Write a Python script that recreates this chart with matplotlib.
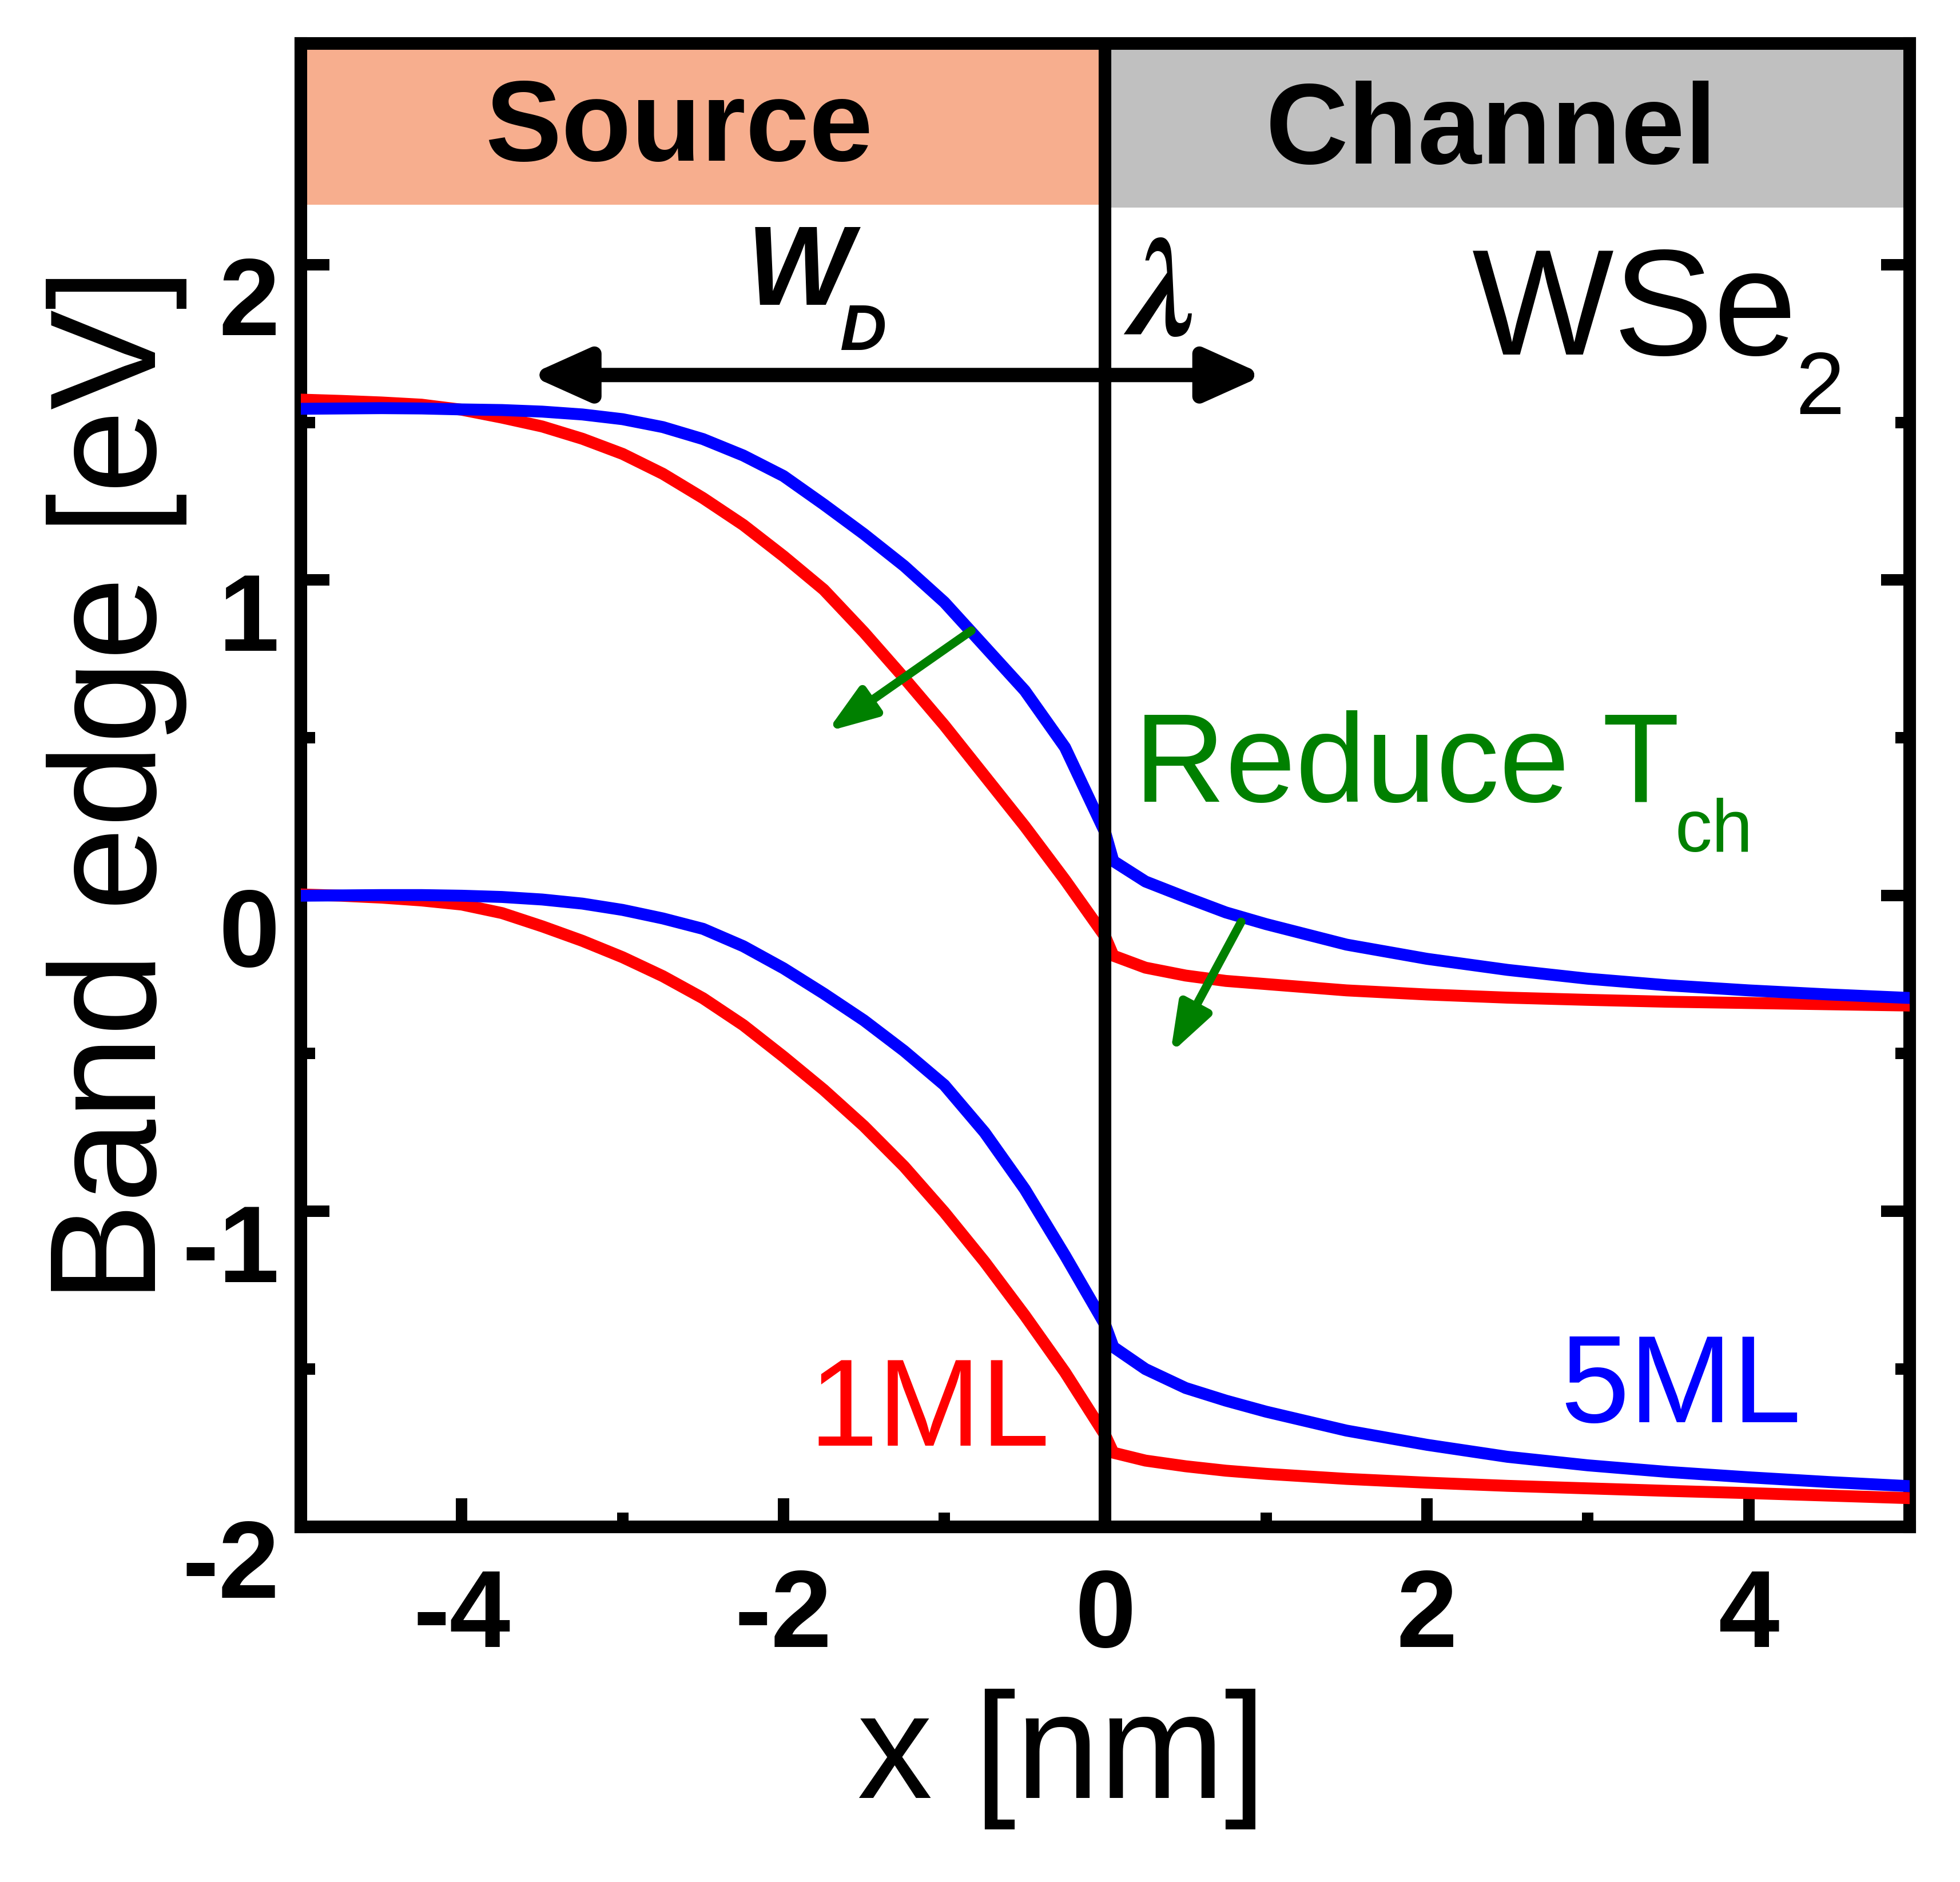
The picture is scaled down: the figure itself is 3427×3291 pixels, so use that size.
import numpy as np
import matplotlib
matplotlib.use('Agg')
import matplotlib.pyplot as plt
from matplotlib.patches import Rectangle, FancyArrowPatch
from matplotlib.transforms import ScaledTranslation

plt.rcParams['font.family'] = ['Liberation Sans', 'DejaVu Sans']
plt.rcParams['axes.unicode_minus'] = False

# ---- data ----
# source side (x < 0)
x_src = [-5.0, -4.75, -4.5, -4.25, -4.0, -3.75, -3.5, -3.25, -3.0, -2.75, -2.5, -2.25,
         -2.0, -1.75, -1.5, -1.25, -1.0, -0.75, -0.5, -0.25, 0.0]
ec_1ml_src = [1.572, 1.568, 1.563, 1.556, 1.54, 1.515, 1.487, 1.448, 1.40, 1.337, 1.26, 1.175,
              1.076, 0.97, 0.835, 0.69, 0.54, 0.38, 0.22, 0.05, -0.13]
ec_5ml_src = [1.543, 1.544, 1.545, 1.544, 1.541, 1.539, 1.534, 1.525, 1.51, 1.485, 1.447, 1.395,
              1.33, 1.24, 1.146, 1.045, 0.93, 0.79, 0.65, 0.47, 0.20]
ev_1ml_src = [0.004, 0.0, -0.006, -0.015, -0.028, -0.055, -0.097, -0.143, -0.195, -0.255, -0.325, -0.41,
              -0.51, -0.615, -0.73, -0.858, -1.003, -1.16, -1.33, -1.51, -1.71]
ev_5ml_src = [0.0, 0.001, 0.002, 0.002, 0.0, -0.004, -0.012, -0.025, -0.045, -0.072, -0.105, -0.16,
              -0.23, -0.31, -0.395, -0.492, -0.60, -0.75, -0.93, -1.14, -1.36]

# channel side (x > 0)
x_ch = [0.0, 0.05, 0.25, 0.5, 0.75, 1.0, 1.5, 2.0, 2.5, 3.0, 3.5, 4.0, 4.5, 5.0]
ec_1ml_ch = [-0.13, -0.19, -0.228, -0.253, -0.27, -0.28, -0.30, -0.313, -0.323, -0.33, -0.336, -0.34, -0.344, -0.348]
ec_5ml_ch = [0.20, 0.11, 0.045, -0.005, -0.053, -0.09, -0.155, -0.20, -0.235, -0.263, -0.284, -0.30, -0.313, -0.324]
ev_1ml_ch = [-1.71, -1.765, -1.79, -1.808, -1.822, -1.832, -1.848, -1.86, -1.87, -1.878, -1.886, -1.893, -1.901, -1.909]
ev_5ml_ch = [-1.36, -1.43, -1.50, -1.56, -1.60, -1.635, -1.695, -1.74, -1.778, -1.805, -1.826, -1.843, -1.858, -1.871]

x_ticks = [-4, -2, 0, 2, 4]
y_ticks = [-2, -1, 0, 1, 2]

RED = '#FF0000'
BLUE = '#0000FF'
GREEN = '#008000'

fig = plt.figure(figsize=(3427 / 300, 3291 / 300), dpi=300)
ax = fig.add_axes([0.1535, 0.1887, 0.9743 - 0.1535, 0.9768 - 0.1887])

x_all = x_src + x_ch[1:]
lw_curve = 5.0
for ec, color in [(ec_1ml_src + ec_1ml_ch[1:], RED), (ec_5ml_src + ec_5ml_ch[1:], BLUE)]:
    ax.plot(x_all, ec, color=color, lw=lw_curve, zorder=3)
for ev, color in [(ev_1ml_src + ev_1ml_ch[1:], RED), (ev_5ml_src + ev_5ml_ch[1:], BLUE)]:
    ax.plot(x_all, ev, color=color, lw=lw_curve, zorder=3)

ax.set_xlim(-5, 5)
ax.set_ylim(-2, 2.7)

# region boxes on top
ax.add_patch(Rectangle((-5, 2.19), 5, 0.6, facecolor='#F7AE8E', edgecolor='none', zorder=2))
ax.add_patch(Rectangle((0, 2.18), 5, 0.6, facecolor='#C0C0C0', edgecolor='none', zorder=2))
ax.text(-2.65, 2.33, 'Source', ha='center', va='baseline', fontsize=48, fontweight='bold', zorder=4)
ax.text(2.40, 2.32, 'Channel', ha='center', va='baseline', fontsize=48, fontweight='bold', zorder=4)

ax.axvline(0, color='k', lw=5.3, zorder=5)

# W_D / lambda arrows
for x_end in [-3.58, 0.99]:
    ax.add_patch(FancyArrowPatch((0, 1.65), (x_end, 1.65),
                                 arrowstyle='-|>,head_length=20,head_width=9',
                                 mutation_scale=1, lw=6, color='k',
                                 shrinkA=0, shrinkB=0, capstyle='round',
                                 joinstyle='round', zorder=4))
ax.text(-2.23, 1.873, 'W', ha='left', va='baseline', fontsize=47,
        fontweight='bold', fontstyle='italic')
ax.text(-1.65, 1.73, 'D', ha='left', va='baseline', fontsize=27,
        fontweight='bold', fontstyle='italic')
ax.text(0.14, 1.78, '\u03bb', ha='left', va='baseline', fontsize=58,
        fontstyle='italic', fontweight='bold', family=['STIXGeneral', 'DejaVu Serif'])

ax.text(2.28, 1.714, 'WSe', ha='left', va='baseline', fontsize=63)
ax.text(4.29, 1.526, '2', ha='left', va='baseline', fontsize=37)

# reduce T_ch
ax.text(0.18, 0.298, 'Reduce T', ha='left', va='baseline', fontsize=53, color=GREEN)
ax.text(3.54, 0.14, 'ch', ha='left', va='baseline', fontsize=31, color=GREEN)
for start, end in [((-0.832, 0.84), (-1.73, 0.52)), ((0.845, -0.083), (0.405, -0.50))]:
    ax.add_patch(FancyArrowPatch(start, end,
                                 arrowstyle='-|>,head_length=17,head_width=6',
                                 mutation_scale=1, lw=3.6, color=GREEN,
                                 shrinkA=0, shrinkB=0, capstyle='round',
                                 joinstyle='round', zorder=6))

ax.text(-1.84, -1.742, '1ML', ha='left', va='baseline', fontsize=52, color=RED)
ax.text(2.83, -1.669, '5ML', ha='left', va='baseline', fontsize=52, color=BLUE)

# axes styling
for side in ['left', 'right', 'top', 'bottom']:
    ax.spines[side].set_linewidth(5.3)
ax.set_xticks(x_ticks)
ax.set_xticks([-5, -3, -1, 1, 3, 5], minor=True)
ax.set_yticks(y_ticks)
ax.set_yticks([-1.5, -0.5, 0.5, 1.5, 2.5], minor=True)
ax.tick_params(which='both', direction='in', right=True, top=False, width=4.8)
ax.tick_params(which='major', length=12)
ax.tick_params(which='minor', length=6)
ax.tick_params(axis='x', which='major', pad=17, labelsize=46)
ax.tick_params(axis='y', which='major', pad=9, labelsize=46)
for lab in ax.get_xticklabels() + ax.get_yticklabels():
    lab.set_fontweight('bold')
shift = ScaledTranslation(0, -13 / 72, fig.dpi_scale_trans)
for lab in ax.get_yticklabels():
    lab.set_transform(lab.get_transform() + shift)

ax.set_xlabel('x [nm]', fontsize=63, labelpad=8)
ax.xaxis.label.set_x(0.473)
ax.set_ylabel('Band edge [eV]', fontsize=63, labelpad=-2)

fig.savefig('out.png', dpi=300)
